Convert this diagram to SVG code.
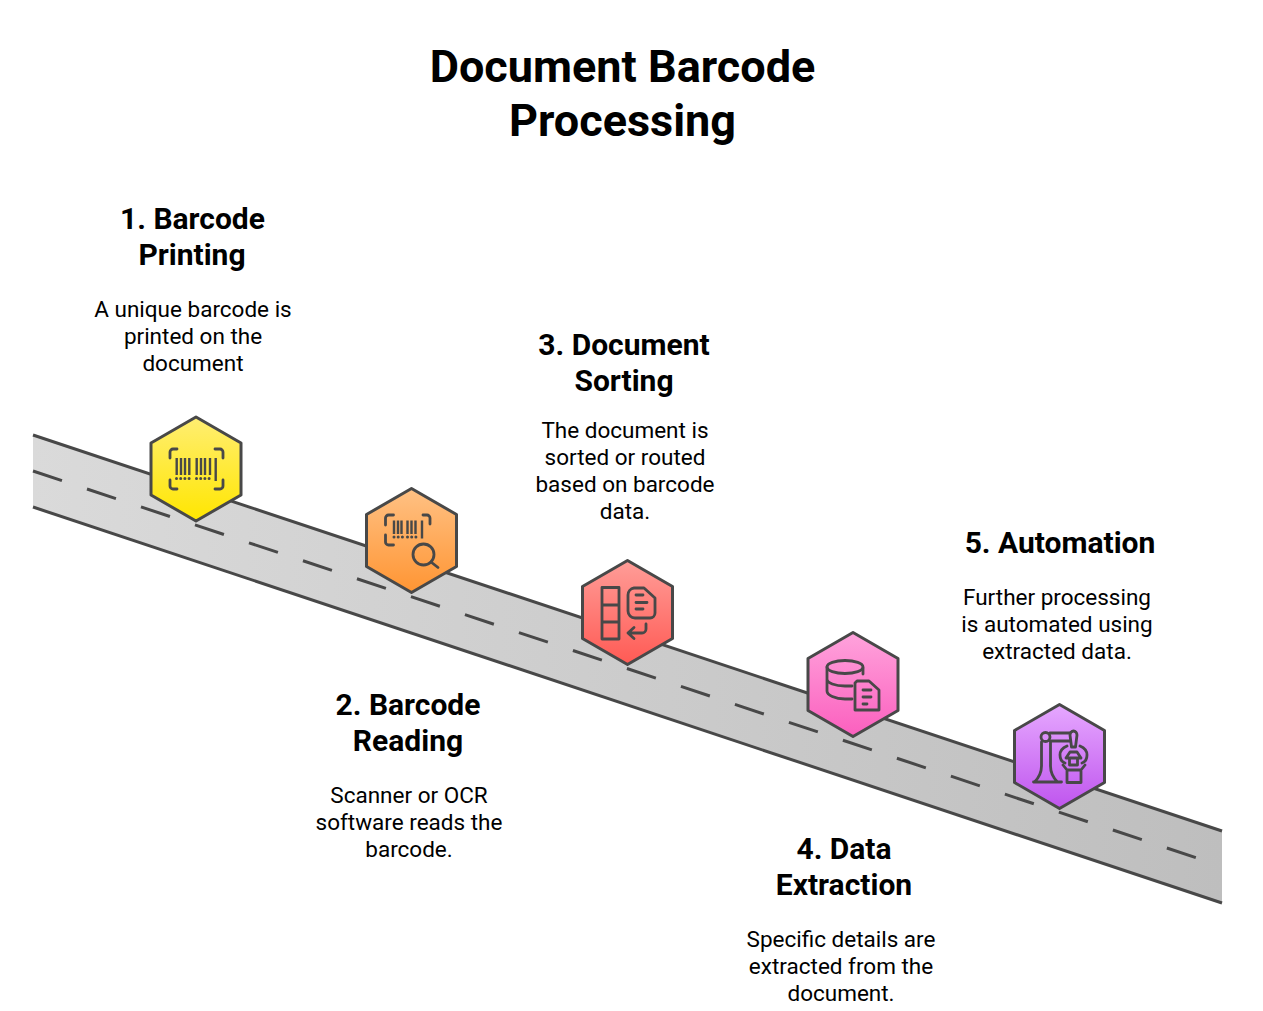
<svg xmlns="http://www.w3.org/2000/svg" width="1263" height="1011" viewBox="0 0 1263 1011">
<style>
text{font-family:Roboto,"Liberation Sans",sans-serif;text-anchor:middle;fill:#000}
.t{font-size:45px;font-weight:700}
.h{font-size:30px;font-weight:700}
.b{font-size:22.500px;font-weight:400}
.edge{stroke:#484848;stroke-width:3;fill:none}
.dash{stroke:#484848;stroke-width:3;fill:none;stroke-dasharray:30.500 26.400}
.hex{stroke:#484848;stroke-width:3;stroke-linejoin:round}
.i{stroke:#484848;stroke-width:2.800;fill:none;stroke-linecap:round;stroke-linejoin:round}
.bar{stroke:#484848;stroke-width:2.400;fill:none}
.dot{stroke:#484848;stroke-width:3;fill:none;stroke-linecap:round;stroke-dasharray:0 4.200}
</style>
<defs>
<linearGradient id="road" x1="0" x2="1" y1="0" y2="0"><stop offset="0" stop-color="#dadada"/><stop offset="1" stop-color="#bebebe"/></linearGradient>
<linearGradient id="g1" x1="0" x2="0" y1="0" y2="1"><stop offset="0" stop-color="#ffee72"/><stop offset="1" stop-color="#ffe600"/></linearGradient>
<linearGradient id="g2" x1="0" x2="0" y1="0" y2="1"><stop offset="0" stop-color="#ffc184"/><stop offset="1" stop-color="#ff9533"/></linearGradient>
<linearGradient id="g3" x1="0" x2="0" y1="0" y2="1"><stop offset="0" stop-color="#ff9d98"/><stop offset="1" stop-color="#ff5a54"/></linearGradient>
<linearGradient id="g4" x1="0" x2="0" y1="0" y2="1"><stop offset="0" stop-color="#ffa3dc"/><stop offset="1" stop-color="#fb5fbe"/></linearGradient>
<linearGradient id="g5" x1="0" x2="0" y1="0" y2="1"><stop offset="0" stop-color="#e6a8ff"/><stop offset="1" stop-color="#bf55ee"/></linearGradient>
<polygon id="hexagon" points="0,-52 45,-26 45,26 0,52 -45,26 -45,-26"/>
</defs>
<g id="title"><text class="t" x="622.500" y="82">Document Barcode</text><text class="t" x="622.500" y="136">Processing</text></g>
<g id="connectors">
<polygon points="33,435 1222,831 1222,903 33,507" fill="url(#road)"/>
<line class="edge" x1="33" y1="435" x2="1222" y2="831"/>
<line class="edge" x1="33" y1="507" x2="1222" y2="903"/>
<line class="dash" x1="33" y1="471" x2="1197" y2="858"/>
</g>
<g id="node1">
<use href="#hexagon" x="196" y="469" fill="url(#g1)" class="hex"/>
<path class="i" d="M170 458v-6a3 3 0 0 1 3-3h4M215 449h5a3 3 0 0 1 3 3v6M223 480v6a3 3 0 0 1-3 3h-5M177 489h-4a3 3 0 0 1-3-3v-6"/>
<path class="bar" d="M176.700 458v17M181 458v17M185 458v17M189.300 458v17M196.700 458v17M201 458v17M205 458v17M210 458v17M215.700 458v23"/>
<path class="dot" d="M176.500 478.500h14M196.500 478.500h14"/>
<text class="h" x="192.500" y="229">1. Barcode</text><text class="h" x="192" y="265">Printing</text>
<text class="b" x="193" y="317">A unique barcode is</text><text class="b" x="193" y="344">printed on the</text><text class="b" x="193" y="371">document</text>
</g>
<g id="node2">
<use href="#hexagon" x="411.500" y="540.500" fill="url(#g2)" class="hex"/>
<path class="i" d="M385.500 525v-7a3 3 0 0 1 3-3h5M423 515h4a3 3 0 0 1 3 3v6M393.500 545h-5a3 3 0 0 1-3-3v-7"/>
<path class="bar" d="M394 520.500v13.500M398 520.500v13.500M401.500 520.500v13.500M407.500 520.500v13.500M411.500 520.500v13.500M415.500 520.500v13.500M422 520.500v18"/>
<path class="dot" d="M394 537h9M407.500 537h10"/>
<circle class="i" cx="423.500" cy="554.500" r="10.500"/><path class="i" d="M431 562l7 5.500"/>
<text class="h" x="408" y="715">2. Barcode</text><text class="h" x="408" y="751">Reading</text>
<text class="b" x="409" y="803">Scanner or OCR</text><text class="b" x="409" y="830">software reads the</text><text class="b" x="409" y="857">barcode.</text>
</g>
<g id="node3">
<use href="#hexagon" x="627.500" y="612.500" fill="url(#g3)" class="hex"/>
<path class="i" d="M602 587.500h17v51.500h-17zM602 605h17M602 622h17"/>
<path class="i" d="M634 588h10l11 10v15a5 5 0 0 1-5 5h-15a7 7 0 0 1-7-7v-16a7 7 0 0 1 6-7z"/>
<path class="i" d="M636 595h7M636 602.500h11M636 609h7M646 624v5a4 4 0 0 1-4 4h-14M634 627.500l-6 5.500 6 5.500"/>
<text class="h" x="624" y="355">3. Document</text><text class="h" x="624" y="391">Sorting</text>
<text class="b" x="625" y="438">The document is</text><text class="b" x="625" y="465">sorted or routed</text><text class="b" x="625" y="492">based on barcode</text><text class="b" x="625" y="519">data.</text>
</g>
<g id="node4">
<use href="#hexagon" x="853" y="684.500" fill="url(#g4)" class="hex"/>
<ellipse class="i" cx="845" cy="667" rx="18" ry="6.500"/>
<path class="i" d="M827 667v24c0 4 8 8 18 8h7M827 679c0 4 8 7 18 7h7M863 668v6"/>
<path class="i" d="M857 681h12l10 9v20h-24v-27z"/>
<path class="i" d="M863 690h8M863 697h8M863 704h4"/>
<text class="h" x="844" y="859">4. Data</text><text class="h" x="844" y="895">Extraction</text>
<text class="b" x="841" y="947">Specific details are</text><text class="b" x="841" y="974">extracted from the</text><text class="b" x="841" y="1001">document.</text>
</g>
<g id="node5">
<use href="#hexagon" x="1059.500" y="756.500" fill="url(#g5)" class="hex"/>
<circle class="i" cx="1045.500" cy="737" r="4.500"/>
<path class="i" d="M1050 733h20M1050 741h20M1041.500 742v24c0 6-3 12-7 16M1050.500 742v24c0 6 3 12 7 16M1033.500 782h28"/>
<path class="i" d="M1070 735a3.500 4 0 0 1 7 0l-1.500 12h-4zM1067 746c-5 2-7 5-7 9s2 7 5 8M1080 746c5 2 7 5 7 9s-2 7-5 8M1066 758l4-6h7l4 6zM1069.500 758v7h8v-7M1063 765l4 5h14l4-5M1067 770v12.500h14v-12.500"/>
<text class="h" x="1060" y="553">5. Automation</text>
<text class="b" x="1057" y="605">Further processing</text><text class="b" x="1057" y="632">is automated using</text><text class="b" x="1057" y="659">extracted data.</text>
</g>
</svg>
